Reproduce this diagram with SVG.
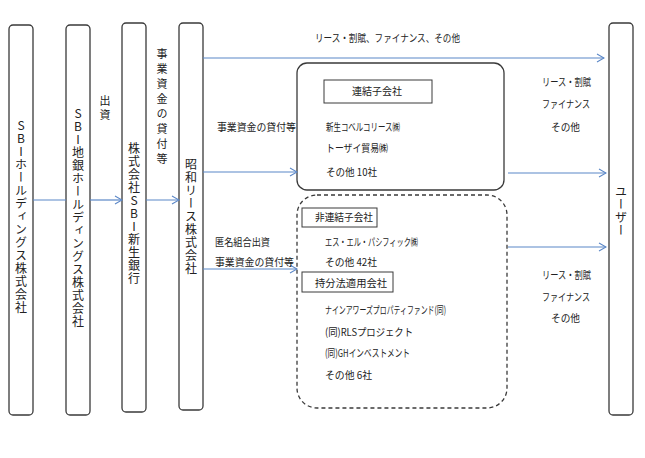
<svg xmlns="http://www.w3.org/2000/svg" width="645" height="458" viewBox="0 0 645 458">
<defs>
<style>
.box{fill:#fff;stroke:#3a3a3a;stroke-width:1.3}
.lbl{fill:#fff;stroke:#3a3a3a;stroke-width:1}
.dash{fill:none;stroke:#3a3a3a;stroke-width:1.3;stroke-dasharray:4 3}
.ln{stroke:#5B87C7;stroke-width:1.2;fill:none}
.arr{stroke:#5B87C7;stroke-width:1.2;fill:none;marker-end:url(#ah)}
text{font-family:"Noto Sans CJK JP","Noto Sans",sans-serif;fill:#222}
.t{font-size:10.5px}
.v{font-size:12px;writing-mode:vertical-rl;text-orientation:upright;letter-spacing:1px}
.vs{font-size:11px;writing-mode:vertical-rl;text-orientation:upright}
</style>
<marker id="ah" markerUnits="userSpaceOnUse" markerWidth="10" markerHeight="10" viewBox="0 0 10 10" refX="9" refY="5" orient="auto">
<path d="M2,1 L9,5 L2,9" fill="none" stroke="#5B87C7" stroke-width="1.1"/>
</marker>
</defs>

<g id="sbi-hd">
<rect class="box" x="9" y="25" width="24" height="390" rx="4"/>
<text class="v" x="21" y="217" text-anchor="middle">SBIホールディングス株式会社</text>
</g>
<g id="sbi-chigin">
<rect class="box" x="66" y="25" width="24" height="390" rx="4"/>
<text class="v" x="78" y="218" text-anchor="middle">SBI地銀ホールディングス株式会社</text>
</g>
<g id="shinsei">
<rect class="box" x="122" y="23" width="24" height="389" rx="4"/>
<text class="v" x="134" y="214" text-anchor="middle">株式会社SBI新生銀行</text>
</g>
<g id="showa">
<rect class="box" x="179" y="23" width="24" height="387" rx="4"/>
<text class="v" x="191" y="217" text-anchor="middle">昭和リース株式会社</text>
</g>
<g id="user">
<rect class="box" x="609" y="23" width="24" height="392" rx="4"/>
<text class="v" x="621" y="211" text-anchor="middle">ユーザー</text>
</g>

<g id="consolidated">
<rect class="box" x="297" y="63" width="207" height="127" rx="10"/>
<rect class="lbl" x="324" y="80" width="108" height="23"/>
<text class="t" x="352" y="95" textLength="50" lengthAdjust="spacingAndGlyphs">連結子会社</text>
<text class="t" x="326" y="131" textLength="74" lengthAdjust="spacingAndGlyphs">新生コベルコリース㈱</text>
<text class="t" x="326" y="152" textLength="62" lengthAdjust="spacingAndGlyphs">トーザイ貿易㈱</text>
<text class="t" x="326" y="176" textLength="51" lengthAdjust="spacingAndGlyphs">その他 10社</text>
</g>

<g id="nonconsolidated">
<rect class="dash" x="297" y="195" width="210" height="213" rx="20"/>
<rect class="lbl" x="302" y="208" width="75" height="19"/>
<text class="t" x="315" y="221" textLength="58" lengthAdjust="spacingAndGlyphs">非連結子会社</text>
<text class="t" x="325" y="246" textLength="93" lengthAdjust="spacingAndGlyphs">エス・エル・パシフィック㈱</text>
<text class="t" x="325" y="266" textLength="52" lengthAdjust="spacingAndGlyphs">その他 42社</text>
<rect class="lbl" x="302" y="272" width="91" height="20"/>
<text class="t" x="315" y="287" textLength="72" lengthAdjust="spacingAndGlyphs">持分法適用会社</text>
<text class="t" x="325" y="314" textLength="121" lengthAdjust="spacingAndGlyphs">ナインアワーズプロパティファンド(同)</text>
<text class="t" x="325" y="336" textLength="88" lengthAdjust="spacingAndGlyphs">(同)RLSプロジェクト</text>
<text class="t" x="325" y="357" textLength="85" lengthAdjust="spacingAndGlyphs">(同)GHインベストメント</text>
<text class="t" x="325" y="379" textLength="47" lengthAdjust="spacingAndGlyphs">その他 6社</text>
</g>

<g id="connectors">
<line class="ln" x1="33" y1="200" x2="66" y2="200"/>
<line class="arr" x1="90" y1="200" x2="122" y2="200"/>
<line class="arr" x1="146" y1="200" x2="179" y2="200"/>
<line class="arr" x1="203" y1="58" x2="604" y2="58"/>
<line class="arr" x1="203" y1="172" x2="297" y2="172"/>
<line class="arr" x1="203" y1="269" x2="297" y2="269"/>
<line class="arr" x1="508" y1="173" x2="606" y2="173"/>
<line class="arr" x1="508" y1="247" x2="606" y2="247"/>
</g>

<g id="labels">
<text class="vs" x="105" y="109" text-anchor="middle" style="letter-spacing:3px">出資</text>
<text class="vs" x="162" y="108" text-anchor="middle" style="letter-spacing:4px">事業資金の貸付等</text>
<text class="t" x="315" y="42" textLength="145" lengthAdjust="spacingAndGlyphs">リース・割賦、ファイナンス、その他</text>
<text class="t" x="217" y="131" textLength="79" lengthAdjust="spacingAndGlyphs">事業資金の貸付等</text>
<text class="t" x="215" y="246" textLength="55" lengthAdjust="spacingAndGlyphs">匿名組合出資</text>
<text class="t" x="215" y="266" textLength="79" lengthAdjust="spacingAndGlyphs">事業資金の貸付等</text>
<text class="t" x="542" y="86" textLength="49" lengthAdjust="spacingAndGlyphs">リース・割賦</text>
<text class="t" x="542" y="108" textLength="48" lengthAdjust="spacingAndGlyphs">ファイナンス</text>
<text class="t" x="551" y="131" textLength="29" lengthAdjust="spacingAndGlyphs">その他</text>
<text class="t" x="542" y="279" textLength="49" lengthAdjust="spacingAndGlyphs">リース・割賦</text>
<text class="t" x="542" y="301" textLength="48" lengthAdjust="spacingAndGlyphs">ファイナンス</text>
<text class="t" x="551" y="322" textLength="29" lengthAdjust="spacingAndGlyphs">その他</text>
</g>
</svg>
